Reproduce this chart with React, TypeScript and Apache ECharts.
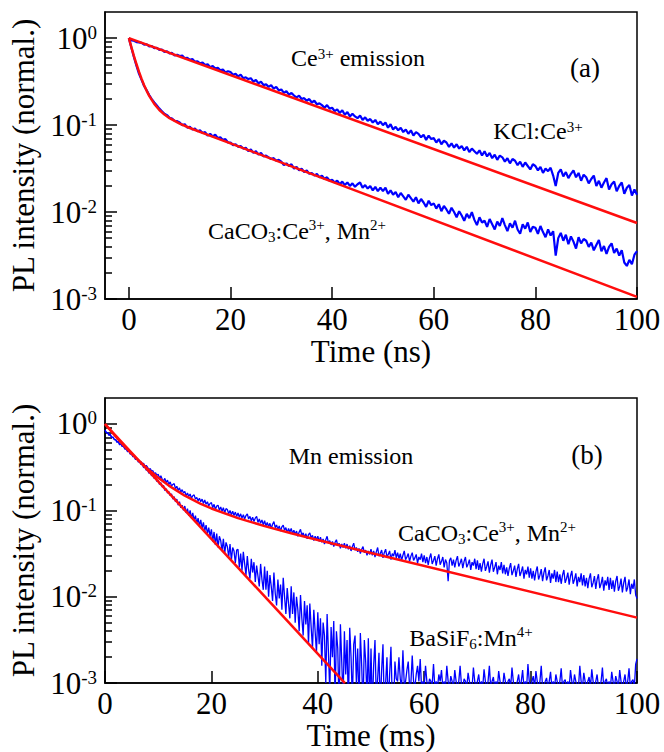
import React, { useEffect, useRef } from "react";
import * as echarts from "echarts";

const SERIF = "'Liberation Serif', 'Times New Roman', serif";

// sample times of the measured decays: 0.5 ns steps (a), 0.25 ms steps (b)
const tNs = Array.from({ length: 201 }, (_, i) => i * 0.5);
const tMs = Array.from({ length: 401 }, (_, i) => i * 0.25);

// ---- Panel (a): Ce3+ emission, values stored as log10(normalized PL intensity) ----
const kclDataLog = [
  0, -0.025, -0.03, -0.045, -0.05, -0.055, -0.075, -0.07, -0.095, -0.09, -0.115, -0.11, -0.135, -0.13, -0.16, -0.15, -0.175, -0.17, -0.2, -0.19,
  -0.205, -0.2, -0.23, -0.225, -0.25, -0.24, -0.27, -0.265, -0.29, -0.28, -0.31, -0.3, -0.335, -0.32, -0.35, -0.34, -0.37, -0.36, -0.395, -0.38,
  -0.39, -0.42, -0.41, -0.44, -0.42, -0.46, -0.45, -0.47, -0.46, -0.5, -0.48, -0.52, -0.5, -0.54, -0.53, -0.56, -0.54, -0.58, -0.56, -0.6,
  -0.59, -0.63, -0.61, -0.65, -0.63, -0.66, -0.68, -0.66, -0.7, -0.69, -0.72, -0.7, -0.74, -0.72, -0.76, -0.75, -0.77, -0.8, -0.77, -0.81,
  -0.8, -0.84, -0.82, -0.86, -0.83, -0.88, -0.85, -0.9, -0.87, -0.9, -0.92, -0.89, -0.94, -0.91, -0.95, -0.93, -0.97, -0.94, -0.99, -0.96,
  -1.0, -0.97, -1.03, -0.99, -1.05, -1.02, -1.06, -1.03, -1.08, -1.05, -1.1, -1.06, -1.12, -1.08, -1.1, -1.14, -1.11, -1.17, -1.12, -1.16,
  -1.15, -1.2, -1.16, -1.22, -1.18, -1.2, -1.25, -1.21, -1.26, -1.22, -1.27, -1.24, -1.29, -1.25, -1.31, -1.27, -1.3, -1.33, -1.29, -1.35,
  -1.3, -1.36, -1.32, -1.38, -1.34, -1.4, -1.35, -1.37, -1.42, -1.38, -1.44, -1.39, -1.41, -1.46, -1.42, -1.48, -1.43, -1.47, -1.51, -1.45,
  -1.47, -1.52, -1.48, -1.55, -1.5, -1.53, -1.49, -1.58, -1.7, -1.55, -1.51, -1.59, -1.54, -1.61, -1.56, -1.52, -1.6, -1.55, -1.64, -1.57,
  -1.6, -1.67, -1.62, -1.58, -1.7, -1.64, -1.72, -1.66, -1.61, -1.74, -1.68, -1.65, -1.76, -1.7, -1.66, -1.79, -1.72, -1.69, -1.81, -1.74,
  -1.8,
];
const caCeDataLog = [
  0, -0.11, -0.22, -0.32, -0.41, -0.48, -0.55, -0.6, -0.655, -0.7, -0.74, -0.775, -0.81, -0.84, -0.87, -0.885, -0.915, -0.925, -0.95, -0.955,
  -0.97, -1.0, -0.99, -1.03, -1.02, -1.05, -1.04, -1.07, -1.06, -1.09, -1.08, -1.12, -1.1, -1.13, -1.11, -1.15, -1.14, -1.17, -1.16, -1.2,
  -1.2, -1.23, -1.22, -1.25, -1.24, -1.27, -1.26, -1.3, -1.28, -1.32, -1.3, -1.34, -1.32, -1.36, -1.35, -1.37, -1.39, -1.38, -1.41, -1.4,
  -1.42, -1.46, -1.44, -1.47, -1.45, -1.5, -1.48, -1.52, -1.5, -1.54, -1.52, -1.56, -1.55, -1.58, -1.56, -1.6, -1.58, -1.62, -1.6, -1.64,
  -1.63, -1.66, -1.64, -1.68, -1.65, -1.69, -1.66, -1.7, -1.67, -1.71, -1.68, -1.66, -1.72, -1.69, -1.73, -1.7, -1.75, -1.71, -1.76, -1.72,
  -1.76, -1.72, -1.79, -1.75, -1.8, -1.77, -1.83, -1.78, -1.82, -1.86, -1.8, -1.84, -1.88, -1.83, -1.9, -1.85, -1.89, -1.94, -1.87, -1.92,
  -1.9, -1.96, -1.91, -1.99, -1.93, -1.97, -2.02, -1.95, -2.0, -2.06, -1.99, -2.04, -2.1, -2.02, -2.07, -2.0, -2.09, -2.15, -2.06, -2.12,
  -2.1, -2.17, -2.08, -2.14, -2.2, -2.11, -2.16, -2.07, -2.15, -2.22, -2.13, -2.18, -2.1, -2.2, -2.25, -2.14, -2.19, -2.12, -2.23, -2.17,
  -2.18, -2.25, -2.16, -2.23, -2.29, -2.2, -2.27, -2.22, -2.5, -2.3, -2.24, -2.33, -2.26, -2.37, -2.28, -2.34, -2.42, -2.29, -2.36, -2.31,
  -2.33, -2.4, -2.35, -2.44, -2.38, -2.32, -2.45, -2.39, -2.48, -2.4, -2.36, -2.47, -2.42, -2.5, -2.44, -2.58, -2.62, -2.55, -2.6, -2.49,
  -2.45,
];
const kclFitT = [0, 100];
const kclFitLog = [0, -2.126];
const caCeFitT = [0, 0.5, 1, 1.5, 2, 2.5, 3, 3.5, 4, 5, 6, 7, 8, 10, 12, 15, 20, 100];
const caCeFitLog = [0, -0.106, -0.206, -0.3, -0.388, -0.468, -0.541, -0.606, -0.663, -0.756, -0.826, -0.879, -0.92, -0.983, -1.033, -1.1, -1.21, -2.975];

// ---- Panel (b): Mn emission (0.25 ms steps) ----
const caMnDataLog = [
  -0.07, -0.1, -0.1, -0.13, -0.12, -0.16, -0.15, -0.18, -0.18, -0.21, -0.2, -0.24, -0.23, -0.26, -0.26, -0.29, -0.28, -0.32, -0.31, -0.34,
  -0.35, -0.38, -0.375, -0.41, -0.4, -0.415, -0.445, -0.435, -0.46, -0.455, -0.49, -0.48, -0.5, -0.53, -0.515, -0.545, -0.54, -0.575, -0.565, -0.595,
  -0.58, -0.63, -0.6, -0.64, -0.66, -0.63, -0.68, -0.65, -0.7, -0.67, -0.72, -0.7, -0.69, -0.75, -0.72, -0.77, -0.74, -0.79, -0.76, -0.8,
  -0.78, -0.83, -0.8, -0.84, -0.81, -0.86, -0.83, -0.82, -0.87, -0.85, -0.89, -0.86, -0.9, -0.87, -0.92, -0.88, -0.93, -0.9, -0.95, -0.92,
  -0.91, -0.97, -0.93, -0.99, -0.95, -0.94, -1.0, -0.96, -1.01, -0.97, -1.03, -0.98, -0.99, -1.04, -1.0, -1.05, -1.01, -1.06, -1.02, -1.07,
  -1.03, -1.08, -1.04, -1.09, -1.05, -1.1, -1.06, -1.04, -1.1, -1.07, -1.12, -1.08, -1.13, -1.09, -1.07, -1.14, -1.1, -1.15, -1.11, -1.17,
  -1.12, -1.18, -1.14, -1.19, -1.15, -1.21, -1.16, -1.13, -1.2, -1.17, -1.22, -1.18, -1.24, -1.19, -1.17, -1.23, -1.2, -1.26, -1.21, -1.25,
  -1.21, -1.27, -1.23, -1.28, -1.24, -1.3, -1.25, -1.22, -1.29, -1.26, -1.31, -1.27, -1.33, -1.28, -1.26, -1.32, -1.29, -1.35, -1.3, -1.34,
  -1.3, -1.36, -1.31, -1.37, -1.33, -1.39, -1.34, -1.3, -1.38, -1.35, -1.4, -1.36, -1.42, -1.37, -1.34, -1.41, -1.38, -1.44, -1.39, -1.43,
  -1.38, -1.44, -1.39, -1.45, -1.41, -1.47, -1.42, -1.38, -1.46, -1.43, -1.48, -1.44, -1.5, -1.45, -1.42, -1.49, -1.46, -1.52, -1.47, -1.51,
  -1.45, -1.52, -1.47, -1.54, -1.48, -1.43, -1.53, -1.5, -1.46, -1.55, -1.49, -1.45, -1.54, -1.51, -1.47, -1.57, -1.5, -1.53, -1.46, -1.55,
  -1.49, -1.56, -1.5, -1.58, -1.52, -1.47, -1.57, -1.54, -1.5, -1.59, -1.53, -1.49, -1.58, -1.55, -1.51, -1.61, -1.54, -1.57, -1.5, -1.6,
  -1.52, -1.61, -1.54, -1.63, -1.55, -1.5, -1.62, -1.58, -1.53, -1.64, -1.56, -1.51, -1.63, -1.59, -1.54, -1.66, -1.57, -1.61, -1.82, -1.58,
  -1.55, -1.64, -1.57, -1.66, -1.58, -1.53, -1.65, -1.61, -1.56, -1.67, -1.59, -1.54, -1.66, -1.62, -1.57, -1.69, -1.6, -1.64, -1.56, -1.68,
  -1.58, -1.69, -1.61, -1.71, -1.62, -1.56, -1.7, -1.65, -1.59, -1.72, -1.63, -1.57, -1.71, -1.66, -1.6, -1.74, -1.64, -1.69, -1.6, -1.73,
  -1.63, -1.74, -1.66, -1.76, -1.67, -1.61, -1.75, -1.7, -1.64, -1.77, -1.68, -1.62, -1.76, -1.71, -1.65, -1.79, -1.69, -1.74, -1.65, -1.78,
  -1.67, -1.79, -1.7, -1.81, -1.71, -1.65, -1.8, -1.75, -1.68, -1.82, -1.72, -1.66, -1.81, -1.76, -1.69, -1.84, -1.73, -1.79, -1.69, -1.83,
  -1.71, -1.83, -1.74, -1.85, -1.75, -1.69, -1.84, -1.79, -1.72, -1.86, -1.76, -1.7, -1.85, -1.8, -1.73, -1.88, -1.77, -1.83, -1.73, -1.87,
  -1.75, -1.88, -1.78, -1.9, -1.79, -1.73, -1.89, -1.84, -1.76, -1.91, -1.8, -1.74, -1.9, -1.85, -1.77, -1.93, -1.81, -1.87, -1.77, -1.92,
  -1.78, -1.91, -1.81, -1.94, -1.82, -1.76, -1.93, -1.88, -1.79, -1.95, -1.84, -1.77, -1.94, -1.89, -1.8, -1.97, -1.85, -1.91, -1.8, -1.98,
  -2.02,
];
const baDataLog = [
  -0.07, -0.1, -0.1, -0.13, -0.12, -0.16, -0.15, -0.18, -0.18, -0.21, -0.2, -0.24, -0.23, -0.26, -0.26, -0.29, -0.29, -0.32, -0.31, -0.35,
  -0.34, -0.375, -0.37, -0.41, -0.4, -0.44, -0.435, -0.47, -0.465, -0.505, -0.495, -0.535, -0.53, -0.57, -0.56, -0.6, -0.59, -0.63, -0.62, -0.665,
  -0.65, -0.7, -0.68, -0.73, -0.71, -0.77, -0.75, -0.8, -0.78, -0.83, -0.81, -0.87, -0.84, -0.9, -0.87, -0.94, -0.9, -0.97, -0.94, -1.0,
  -0.95, -1.03, -0.98, -1.06, -1.0, -1.09, -1.03, -1.12, -1.06, -1.15, -1.09, -1.18, -1.11, -1.21, -1.14, -1.24, -1.17, -1.27, -1.2, -1.3,
  -1.22, -1.36, -1.25, -1.4, -1.27, -1.43, -1.3, -1.35, -1.47, -1.33, -1.5, -1.37, -1.42, -1.54, -1.39, -1.58, -1.43, -1.47, -1.61, -1.46,
  -1.45, -1.66, -1.5, -1.7, -1.48, -1.62, -1.75, -1.53, -1.69, -1.79, -1.56, -1.72, -1.6, -1.83, -1.64, -1.76, -1.88, -1.62, -1.8, -1.92,
  -1.65, -1.92, -1.7, -2.0, -1.75, -1.88, -2.05, -1.72, -1.96, -2.1, -1.8, -2.02, -1.86, -2.15, -1.78, -2.0, -2.2, -1.9, -2.08, -2.25,
  -1.88, -2.2, -1.95, -2.3, -2.0, -2.15, -2.4, -1.98, -2.25, -2.45, -2.05, -2.32, -2.1, -2.55, -2.08, -2.35, -2.6, -2.15, -2.4, -2.65,
  -2.18, -2.55, -2.25, -2.8, -2.3, -2.45, -3.0, -2.2, -2.65, -3.1, -2.35, -2.7, -2.28, -3.2, -2.4, -2.6, -3.3, -2.32, -2.75, -3.2,
  -2.4, -2.9, -2.5, -3.3, -2.36, -2.7, -3.2, -2.55, -2.45, -3.0, -2.6, -3.3, -2.42, -2.8, -3.3, -2.5, -2.75, -3.2, -2.48, -3.3,
  -2.6, -3.3, -2.8, -2.5, -3.2, -2.95, -2.65, -3.3, -2.85, -2.55, -3.3, -3.0, -2.7, -3.3, -2.9, -2.58, -3.2, -3.3, -2.75, -2.95,
  -2.98, -2.7, -2.95, -3.05, -2.62, -3.02, -2.98, -2.85, -2.75, -3.05, -3.0, -2.68, -2.98, -3.05, -2.9, -2.8, -2.98, -2.72, -3.05, -2.98,
  -3.05, -2.8, -2.98, -3.05, -2.95, -2.98, -3.02, -2.78, -3.05, -2.98, -3.05, -2.9, -2.98, -2.85, -3.05, -2.98, -3.05, -2.8, -2.98, -3.05,
  -2.92, -2.98, -3.05, -2.85, -2.98, -3.05, -2.98, -2.8, -3.02, -3.05, -2.95, -2.98, -3.05, -2.88, -2.98, -3.02, -3.05, -2.82, -2.98, -3.05,
  -2.98, -2.9, -3.05, -2.98, -3.05, -2.84, -2.98, -3.05, -2.98, -2.8, -3.05, -2.98, -2.93, -3.05, -2.98, -3.05, -2.86, -2.98, -3.02, -3.05,
  -2.88, -2.98, -3.05, -2.98, -2.95, -3.05, -2.82, -2.98, -3.05, -3.02, -2.98, -2.9, -3.05, -2.98, -2.85, -3.05, -2.98, -3.05, -2.78, -2.98,
  -3.05, -2.98, -2.92, -3.05, -2.86, -2.98, -3.05, -2.98, -2.8, -3.05, -3.02, -2.98, -2.94, -3.05, -2.98, -2.87, -3.05, -2.98, -3.05, -2.9,
  -2.98, -3.05, -2.98, -2.83, -3.05, -2.98, -2.96, -3.05, -2.98, -3.05, -2.85, -2.98, -3.05, -2.9, -2.98, -3.02, -3.05, -2.8, -2.98, -3.05,
  -2.88, -2.98, -3.05, -2.98, -2.93, -3.05, -2.84, -2.98, -3.05, -2.98, -2.9, -3.05, -3.02, -2.98, -2.82, -3.05, -2.98, -2.95, -3.05, -2.98,
  -3.05, -2.87, -2.98, -3.05, -2.92, -2.98, -3.05, -2.85, -2.98, -3.05, -2.98, -2.9, -3.05, -2.98, -2.83, -3.05, -2.98, -2.96, -3.05, -2.78,
  -2.72,
];
const caMnFitT = [0, 1, 2, 3, 4, 5, 6, 8, 10, 12, 15, 18, 20, 25, 30, 35, 40, 50, 100];
const caMnFitLog = [0, -0.073, -0.144, -0.213, -0.28, -0.344, -0.405, -0.52, -0.622, -0.713, -0.83, -0.924, -0.978, -1.09, -1.182, -1.265, -1.343, -1.493, -2.242];
const baFitT = [0, 45.1];
const baFitLog = [0, -3];

// ---- axis ticks ----
const xTicks = [0, 20, 40, 60, 80, 100];
const yMajorTicks = [0.001, 0.01, 0.1, 1];
const yMinorTicks = [
  0.002, 0.003, 0.004, 0.005, 0.006, 0.007, 0.008, 0.009,
  0.02, 0.03, 0.04, 0.05, 0.06, 0.07, 0.08, 0.09,
  0.2, 0.3, 0.4, 0.5, 0.6, 0.7, 0.8, 0.9,
];

const BLUE = "#0000ff";
const RED = "#ff0d0d";

const pairs = (t: number[], logs: number[]) => logs.map((v, i) => [t[i], Math.pow(10, v)]);

const axisLineStyle = { color: "#000", width: 1.5 };
const nameStyle = { fontSize: 31, fontFamily: SERIF, color: "#000" };

function yAxesFor(gridIndex: number) {
  return [
    {
      type: "log",
      logBase: 10,
      gridIndex,
      min: 0.001,
      max: 2,
      position: "left",
      axisLine: { show: true, onZero: false, lineStyle: axisLineStyle },
      axisTick: { show: true, inside: true, length: 12, customValues: yMajorTicks, lineStyle: axisLineStyle },
      axisLabel: {
        customValues: yMajorTicks,
        margin: 8,
        formatter: (v: number) => `{b|10}{s|${Math.round(Math.log10(v))}}`,
        rich: {
          b: { fontSize: 31, fontFamily: SERIF, color: "#000" },
          s: { fontSize: 19, fontFamily: SERIF, color: "#000", verticalAlign: "top" },
        },
      },
      splitLine: { show: false },
      name: "PL intensity (normal.)",
      nameLocation: "middle",
      nameGap: 62,
      nameTextStyle: nameStyle,
    },
    {
      type: "log",
      logBase: 10,
      gridIndex,
      min: 0.001,
      max: 2,
      position: "left",
      axisLine: { show: false, onZero: false },
      axisLabel: { show: false },
      axisTick: { show: true, inside: true, length: 7, customValues: yMinorTicks, lineStyle: axisLineStyle },
      splitLine: { show: false },
    },
  ];
}

function xAxisFor(gridIndex: number, min: number, name: string, nameGap: number) {
  return {
    type: "value",
    gridIndex,
    min,
    max: 100,
    axisLine: { show: true, onZero: false, lineStyle: axisLineStyle },
    axisTick: { show: true, inside: true, length: 12, customValues: xTicks, lineStyle: axisLineStyle },
    axisLabel: { customValues: xTicks, fontSize: 31, fontFamily: SERIF, color: "#000", margin: 5 },
    splitLine: { show: false },
    name,
    nameLocation: "middle",
    nameGap,
    nameTextStyle: nameStyle,
  };
}

const richText = {
  n: { fontSize: 24, fontFamily: SERIF, fill: "#000" },
  sup: { fontSize: 15, fontFamily: SERIF, fill: "#000", verticalAlign: "top" },
  sub: { fontSize: 15, fontFamily: SERIF, fill: "#000", verticalAlign: "top", padding: [12, 0, 0, 0] },
  p: { fontSize: 27, fontFamily: SERIF, fill: "#000" },
};

function label(x: number, y: number, text: string) {
  return {
    type: "text",
    x,
    y,
    z: 100,
    style: { text, rich: richText, textAlign: "center", textVerticalAlign: "middle" },
  };
}

function lineSeries(name: string, xi: number, yi: number, data: number[][], color: string, width: number) {
  return {
    type: "line",
    name,
    xAxisIndex: xi,
    yAxisIndex: yi,
    data,
    showSymbol: false,
    symbol: "none",
    clip: true,
    lineStyle: { color, width },
    emphasis: { disabled: true },
  };
}

export default function App() {
  const ref = useRef<HTMLDivElement>(null);
  useEffect(() => {
    if (!ref.current) return;
    const chart = echarts.init(ref.current, null, { renderer: "svg" });
    chart.setOption({
      animation: false,
      backgroundColor: "#fff",
      grid: [
        { left: 105, top: 12, width: 532, height: 287, show: true, borderColor: "#000", borderWidth: 1.5, backgroundColor: "transparent" },
        { left: 105, top: 398, width: 532, height: 286, show: true, borderColor: "#000", borderWidth: 1.5, backgroundColor: "transparent" },
      ],
      xAxis: [xAxisFor(0, -4.7, "Time (ns)", 25), xAxisFor(1, 0, "Time (ms)", 29)],
      yAxis: [...yAxesFor(0), ...yAxesFor(1)],
      series: [
        lineSeries("KCl:Ce3+", 0, 0, pairs(tNs, kclDataLog), BLUE, 2.2),
        lineSeries("CaCO3:Ce3+, Mn2+ (Ce)", 0, 0, pairs(tNs, caCeDataLog), BLUE, 2.2),
        lineSeries("KCl fit", 0, 0, pairs(kclFitT, kclFitLog), RED, 2.5),
        lineSeries("CaCO3 Ce fit", 0, 0, pairs(caCeFitT, caCeFitLog), RED, 2.5),
        lineSeries("CaCO3:Ce3+, Mn2+ (Mn)", 1, 2, pairs(tMs, caMnDataLog), BLUE, 1.3),
        lineSeries("BaSiF6:Mn4+", 1, 2, pairs(tMs, baDataLog), BLUE, 1.3),
        lineSeries("CaCO3 Mn fit", 1, 2, pairs(caMnFitT, caMnFitLog), RED, 2.5),
        lineSeries("BaSiF6 fit", 1, 2, pairs(baFitT, baFitLog), RED, 2.5),
      ],
      graphic: [
        label(358, 58, "{n|Ce}{sup|3+}{n| emission}"),
        label(585, 68, "{p|(a)}"),
        label(538, 131, "{n|KCl:Ce}{sup|3+}"),
        label(297, 231, "{n|CaCO}{sub|3}{n|:Ce}{sup|3+}{n|, Mn}{sup|2+}"),
        label(351, 456, "{n|Mn emission}"),
        label(587, 455, "{p|(b)}"),
        label(487, 533, "{n|CaCO}{sub|3}{n|:Ce}{sup|3+}{n|, Mn}{sup|2+}"),
        label(471, 638, "{n|BaSiF}{sub|6}{n|:Mn}{sup|4+}"),
      ],
    });
    return () => chart.dispose();
  }, []);
  return (
    <div
      ref={ref}
      style={{ position: "fixed", left: 0, top: 0, width: 664, height: 752, background: "#fff" }}
    />
  );
}
